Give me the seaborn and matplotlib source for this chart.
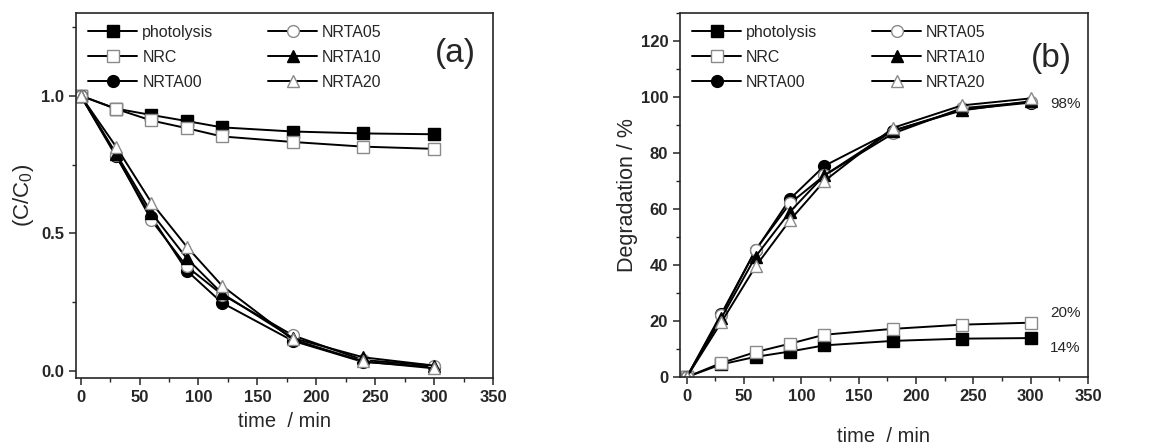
import matplotlib
matplotlib.use("Agg")
import matplotlib.pyplot as plt
from matplotlib.ticker import MultipleLocator
import pandas as pd
import seaborn as sns

time_min = [0, 30, 60, 90, 120, 180, 240, 300]
series_names = ["photolysis", "NRC", "NRTA00", "NRTA05", "NRTA10", "NRTA20"]

# panel (a): C/C0
ratio_photolysis = [1.0, 0.953, 0.930, 0.908, 0.885, 0.870, 0.863, 0.860]
ratio_nrc = [1.0, 0.952, 0.910, 0.882, 0.852, 0.832, 0.815, 0.807]
ratio_nrta00 = [1.0, 0.780, 0.560, 0.365, 0.248, 0.110, 0.033, 0.015]
ratio_nrta05 = [1.0, 0.785, 0.548, 0.380, 0.278, 0.130, 0.040, 0.020]
ratio_nrta10 = [1.0, 0.790, 0.575, 0.410, 0.282, 0.120, 0.050, 0.020]
ratio_nrta20 = [1.0, 0.815, 0.612, 0.452, 0.310, 0.115, 0.035, 0.010]

# panel (b): degradation %
deg_photolysis = [0, 4.5, 7.2, 9.1, 11.3, 12.9, 13.7, 13.9]
deg_nrc = [0, 5.0, 8.9, 11.9, 15.1, 17.2, 18.7, 19.4]
deg_nrta00 = [0, 22.5, 45.2, 63.6, 75.4, 88.0, 95.5, 98.0]
deg_nrta05 = [0, 22.0, 45.5, 62.0, 72.0, 87.0, 96.0, 98.2]
deg_nrta10 = [0, 21.0, 43.0, 59.0, 72.0, 88.0, 95.2, 98.5]
deg_nrta20 = [0, 19.5, 39.5, 56.0, 70.0, 89.0, 97.0, 99.5]

ratio_data = [ratio_photolysis, ratio_nrc, ratio_nrta00, ratio_nrta05, ratio_nrta10, ratio_nrta20]
deg_data = [deg_photolysis, deg_nrc, deg_nrta00, deg_nrta05, deg_nrta10, deg_nrta20]

end_labels = ["98%", "20%", "14%"]
end_label_y = [97.5, 23.0, 10.5]

markers = {"photolysis": "s", "NRC": "s", "NRTA00": "o", "NRTA05": "o", "NRTA10": "^", "NRTA20": "^"}
filled = {"photolysis": True, "NRC": False, "NRTA00": True, "NRTA05": False, "NRTA10": True, "NRTA20": False}

sns.set_style("ticks")
plt.rcParams["font.family"] = ["Liberation Sans", "DejaVu Sans"]
plt.rcParams["mathtext.default"] = "regular"


def to_long(values):
    rows = []
    for name, ys in zip(series_names, values):
        for t, y in zip(time_min, ys):
            rows.append({"time": t, "value": y, "series": name})
    return pd.DataFrame(rows)


def draw_panel(ax, df):
    for name in series_names:
        sub = df[df["series"] == name]
        face = "black" if filled[name] else "white"
        edge = "black" if filled[name] else "#8a8a8a"
        sns.lineplot(data=sub, x="time", y="value", ax=ax, color="black", lw=1.4,
                     marker=markers[name], markersize=8.5, markerfacecolor=face,
                     markeredgecolor=edge, markeredgewidth=1.0, label=name)
    ax.legend(ncol=2, frameon=False, loc="upper left", bbox_to_anchor=(0.0, 1.0),
              fontsize=11.5, handlelength=3.1, columnspacing=3.4,
              labelspacing=0.62, handletextpad=0.3, borderaxespad=0.35)
    ax.xaxis.set_major_locator(MultipleLocator(50))
    ax.xaxis.set_minor_locator(MultipleLocator(25))
    ax.tick_params(which="major", direction="out", length=5, width=1.1, labelsize=12)
    ax.tick_params(which="minor", direction="out", length=3, width=1.0)
    for lab in ax.get_xticklabels() + ax.get_yticklabels():
        lab.set_fontweight("bold")
    for sp in ax.spines.values():
        sp.set_visible(True)
        sp.set_linewidth(1.2)


fig = plt.figure(figsize=(11.55, 4.45), dpi=100)
ax1 = fig.add_axes([0.0658, 0.1506, 0.361, 0.820])
ax2 = fig.add_axes([0.5887, 0.1528, 0.3533, 0.818])

draw_panel(ax1, to_long(ratio_data))
ax1.set_xlim(-4, 350)
ax1.set_ylim(-0.025, 1.3)
ax1.yaxis.set_major_locator(MultipleLocator(0.5))
ax1.yaxis.set_minor_locator(MultipleLocator(0.25))
ax1.set_xlabel("time  / min", fontsize=14.5, labelpad=5)
ax1.set_ylabel("(C/C$_0$)", fontsize=16, labelpad=4)
ax1.text(0.96, 0.89, "(a)", transform=ax1.transAxes, fontsize=24, ha="right", va="center")

draw_panel(ax2, to_long(deg_data))
ax2.set_xlim(-6, 350)
ax2.set_ylim(0, 130)
ax2.yaxis.set_major_locator(MultipleLocator(20))
ax2.yaxis.set_minor_locator(MultipleLocator(10))
ax2.set_xlabel("time  / min", fontsize=14.5, labelpad=17)
ax2.set_ylabel("Degradation / %", fontsize=15.5, labelpad=2)
ax2.text(0.96, 0.875, "(b)", transform=ax2.transAxes, fontsize=24, ha="right", va="center")
for lab, y in zip(end_labels, end_label_y):
    ax2.text(330, y, lab, fontsize=11, ha="center", va="center")

fig.savefig("out.png", dpi=100)
